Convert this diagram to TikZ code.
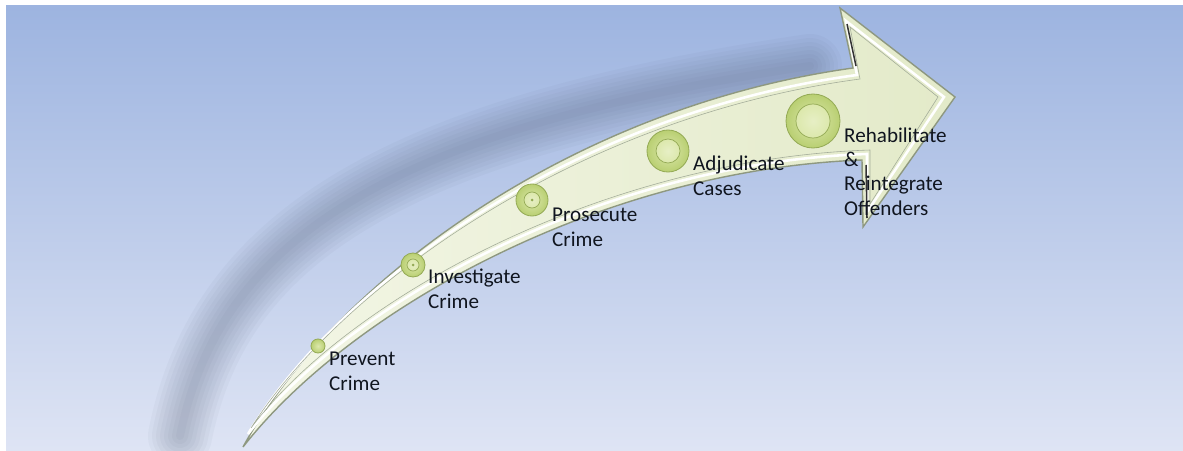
\documentclass[tikz,border=0pt]{standalone}
\usepackage{fontspec}
\setmainfont{Carlito}
\definecolor{skytop}{HTML}{9DB4E0}
\definecolor{skybottom}{HTML}{DEE4F4}
\definecolor{shadowblue}{HTML}{4E5A72}
\definecolor{arrowlight}{HTML}{F3F6E6}
\definecolor{arrowdark}{HTML}{E3EAC9}
\definecolor{arrowrim}{HTML}{8E9880}
\definecolor{knobfill}{HTML}{B9CF72}
\definecolor{knobrim}{HTML}{94AA55}
\definecolor{knobcore}{HTML}{DCE8AC}
\definecolor{labelink}{HTML}{10151F}
\begin{document}
\begin{tikzpicture}[x=0.03cm, y=-0.03cm,
    knob/.style={circle, draw=knobrim, line width=0.7pt, inner color=knobcore, outer color=knobfill, inner sep=0pt, minimum size=#1*0.06cm},
    knobring/.style={draw=knobrim, line width=0.6pt, inner color=knobcore!70!white, outer color=knobcore},
    stage/.style={anchor=base west, align=left, inner sep=0pt, text=labelink, font=\fontsize{18}{20.5}\selectfont}
]
    % page and sky
    \useasboundingbox (0,0) rectangle (1183,450);
    \fill[white] (0,0) rectangle (1183,450);
    \shade[top color=skytop, bottom color=skybottom] (6,6) rectangle (1183,450);

    % soft shadow left of the arrow
    \foreach \w in {64,56,...,8}
        \draw[shadowblue, line width=\w*0.03cm, opacity=0.045, line cap=round]
            (180,436) .. controls (218,245) and (380,130) .. (810,66);

    % arrow body
    \coordinate (tail) at (243,447);
    \coordinate (barbtop) at (840,8);
    \coordinate (tip) at (955,97);
    \coordinate (barbbot) at (863,227);
    \shade[left color=arrowlight, right color=arrowdark, draw=arrowrim, line width=1.2pt, line join=miter]
        (tail) .. controls (330,288) and (565,108) .. (853,68)
        -- (barbtop) -- (tip) -- (barbbot) -- (862,160)
        .. controls (600,170) and (350,310) .. (tail) -- cycle;

    % bevel lines
    \draw[white, line width=2.2pt, line join=miter]
        (248,434) .. controls (334,291) and (567,114) .. (857,75)
        -- (846,21) -- (944,97) -- (867,212) -- (867,154)
        .. controls (600,163) and (348,304) .. (248,434) -- cycle;
    \draw[arrowrim!80, line width=0.5pt, line join=miter]
        (251,428) .. controls (336,294) and (568,118) .. (860,79)
        -- (850,27) -- (938,97) -- (870,204) -- (870,150)
        .. controls (601,159) and (347,300) .. (251,428) -- cycle;
    \draw[black!80, line width=1.3pt] (847,24) -- (856,66);
    \draw[black!80, line width=1.3pt] (866,165) -- (867,218);

    % stage knobs
    \node[knob=7] (prevent) at (318,346) {};
    \node[knob=12] (investigate) at (413,265) {};
    \node[knob=16] (prosecute) at (532,200) {};
    \node[knob=21] (adjudicate) at (668,151) {};
    \node[knob=27] (rehabilitate) at (813,121) {};
    \foreach \k/\r in {investigate/6, prosecute/8, adjudicate/12, rehabilitate/17}
        \draw[knobring] (\k) circle[radius=\r];
    \foreach \k in {investigate, prosecute}
        \fill[knobrim] (\k) circle[radius=1.5];

    % stage labels (anchored at the baseline of the last line)
    \node[stage] (preventtext) at (329,390) {Prevent\\Crime};
    \node[stage] (investigatetext) at (428,308) {Investigate\\Crime};
    \node[stage] (prosecutetext) at (552,246) {Prosecute\\Crime};
    \node[stage] (adjudicatetext) at (693,195) {Adjudicate\\Cases};
    \node[stage] (rehabilitatetext) at (844,215) {Rehabilitate\\\&\\Reintegrate\\Offenders};
\end{tikzpicture}
\end{document}
